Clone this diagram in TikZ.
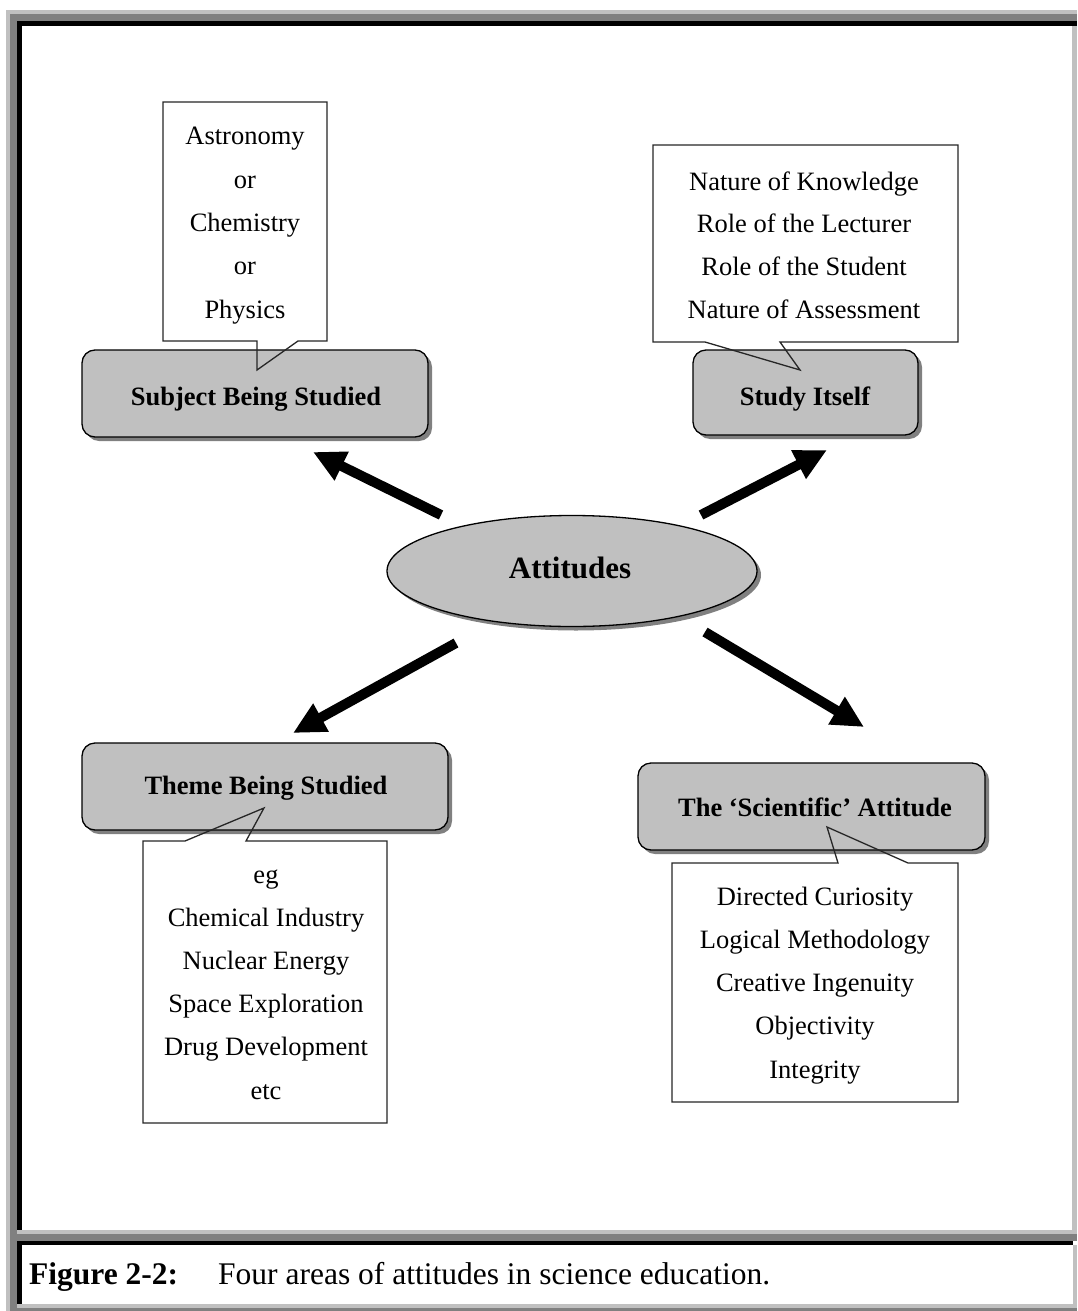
\documentclass[tikz,border=0pt]{standalone}
\usepackage{fontspec}
\setmainfont{Liberation Serif}
\usetikzlibrary{arrows.meta,shapes.geometric,shadows}
\definecolor{panelgray}{HTML}{C0C0C0}
\definecolor{framedark}{HTML}{808080}
\definecolor{shadowgray}{HTML}{808080}

\tikzset{
  calloutline/.style={draw=black!85, line width=1.3pt},
  graybox/.style={draw=black, line width=1.3pt, fill=panelgray, rounded corners=13pt,
    inner sep=0pt, drop shadow={shadow xshift=4pt, shadow yshift=-4pt, fill=shadowgray, opacity=1}},
  listtext/.style={font=\fontsize{26.5}{30}\selectfont, inner sep=0pt},
  titletext/.style={font=\fontsize{26.5}{30}\selectfont\bfseries, inner sep=0pt},
  bigarrow/.style={line width=10pt, -{Triangle[length=32pt,width=30pt]}},
  captionfont/.style={font=\fontsize{31.5}{34}\selectfont, inner sep=0pt},
}

\begin{document}
\begin{tikzpicture}[x=1pt,y=-1pt]
\useasboundingbox (0,0) rectangle (1077,1311);

% ---- outer frame and caption panel borders ----
\fill[panelgray] (6,10) rectangle (1077,14);
\fill[panelgray] (6,10) rectangle (10,1311);
\fill[framedark] (10,14) rectangle (1077,21);
\fill[framedark] (10,14) rectangle (17,1311);
\fill[black] (17,21) rectangle (1077,26);
\fill[black] (17,21) rectangle (22,1230);
\fill[panelgray] (1072,26) rectangle (1077,1230);
\fill[panelgray] (17,1230) rectangle (1077,1234);
\fill[framedark] (17,1234) rectangle (1077,1241);
\fill[black] (17,1241) rectangle (1073,1245);
\fill[black] (17,1241) rectangle (22,1304);
\fill[panelgray] (1073,1245) rectangle (1077,1304);
\fill[panelgray] (17,1304) rectangle (1077,1308);
\fill[framedark] (10,1308) rectangle (1077,1311);

% ---- callout bodies (white fill) ----
\def\subjcallout{(163,102) -- (327,102) -- (327,341) -- (298,341) -- (257,370) -- (257,341) -- (163,341) -- cycle}
\def\studycallout{(653,145) -- (958,145) -- (958,342) -- (780,342) -- (800,370) -- (705,342) -- (653,342) -- cycle}
\def\themecallout{(143,841) -- (185,841) -- (264,808) -- (246,841) -- (387,841) -- (387,1123) -- (143,1123) -- cycle}
\def\scicallout{(672,863) -- (838,863) -- (827,827) -- (908,863) -- (958,863) -- (958,1102) -- (672,1102) -- cycle}
\fill[white] \subjcallout;
\fill[white] \studycallout;
\fill[white] \themecallout;
\fill[white] \scicallout;

% ---- grey heading boxes ----
\node[graybox, minimum width=346pt, minimum height=87pt] (subject) at (255,393.5) {};
\node[graybox, minimum width=225pt, minimum height=85pt] (study) at (805.5,392.5) {};
\node[graybox, minimum width=366pt, minimum height=87pt] (theme) at (265,786.5) {};
\node[graybox, minimum width=347pt, minimum height=87pt] (scientific) at (811.5,806.5) {};

% ---- callout outlines ----
\draw[calloutline] \subjcallout;
\draw[calloutline] \studycallout;
\draw[calloutline] \themecallout;
\draw[calloutline] \scicallout;

% ---- headings ----
\node[titletext, anchor=base] (subjectlabel) at (256,405) {Subject Being Studied};
\node[titletext, anchor=base] (studylabel) at (805,405) {Study Itself};
\node[titletext, anchor=base] (themelabel) at (266,794) {Theme Being Studied};
\node[titletext, anchor=base] (scientificlabel) at (815,816) {The `Scientific' Attitude};

% ---- lists ----
\foreach \t [count=\i] in {Astronomy, or, Chemistry, or, Physics}
  \node[listtext, anchor=base] (subj\i) at (245,{145+43.3*(\i-1)}) {\t};
\foreach \t [count=\i] in {Nature of Knowledge, Role of the Lecturer, Role of the Student, Nature of Assessment}
  \node[listtext, anchor=base] (stud\i) at (804,{190+42.8*(\i-1)}) {\t};
\foreach \t [count=\i] in {eg, Chemical Industry, Nuclear Energy, Space Exploration, Drug Development, etc}
  \node[listtext, anchor=base] (them\i) at (266,{883+43.2*(\i-1)}) {\t};
\foreach \t [count=\i] in {Directed Curiosity, Logical Methodology, Creative Ingenuity, Objectivity, Integrity}
  \node[listtext, anchor=base] (sci\i) at (815,{905+43.3*(\i-1)}) {\t};

% ---- central ellipse ----
\node[ellipse, draw=black, line width=1.3pt, fill=panelgray, minimum width=370pt, minimum height=111pt,
      inner sep=0pt, drop shadow={shadow xshift=4pt, shadow yshift=-4pt, fill=shadowgray, opacity=1}]
      (attitudes) at (572,571) {};
\node[font=\fontsize{31}{34}\selectfont\bfseries, inner sep=0pt, anchor=base] (attlabel) at (570,578) {Attitudes};

% ---- arrows ----
\coordinate (ulA) at (441,515);  \coordinate (ulB) at (313,452);
\coordinate (urA) at (701,515);  \coordinate (urB) at (827,450);
\coordinate (llA) at (456,643);  \coordinate (llB) at (293,733);
\coordinate (lrA) at (705,632);  \coordinate (lrB) at (864,727);
\draw[bigarrow] (ulA) -- (ulB);
\draw[bigarrow] (urA) -- (urB);
\draw[bigarrow] (llA) -- (llB);
\draw[bigarrow] (lrA) -- (lrB);

% ---- caption ----
\node[captionfont, font=\fontsize{31.5}{34}\selectfont\bfseries, anchor=base west] (figlabel) at (29,1284) {Figure 2-2:};
\node[captionfont, anchor=base west] (figtext) at (218,1284) {Four areas of attitudes in science education.};
\end{tikzpicture}
\end{document}
